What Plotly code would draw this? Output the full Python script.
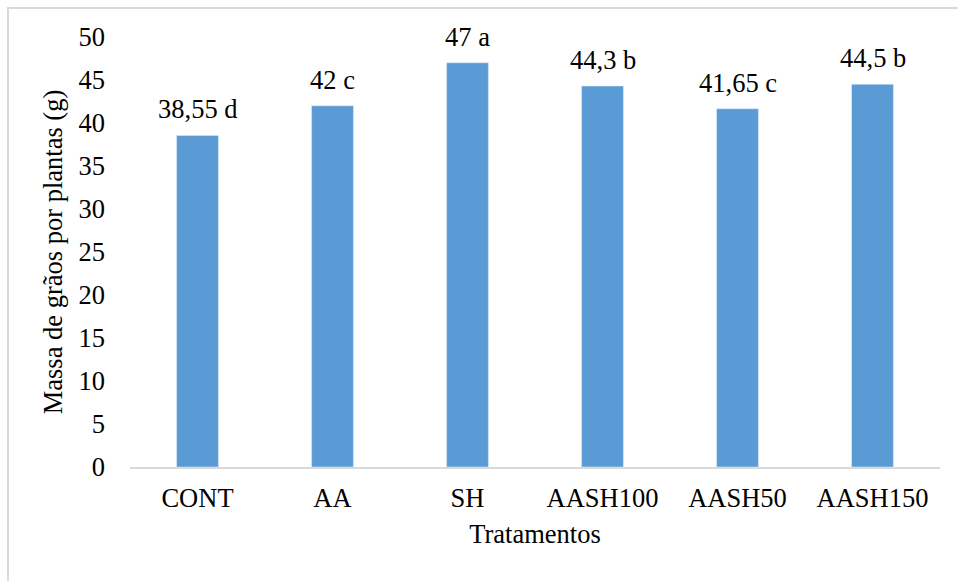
import plotly.graph_objects as go

categories = ["CONT", "AA", "SH", "AASH100", "AASH50", "AASH150"]
values = [38.55, 42, 47, 44.3, 41.65, 44.5]
letters = ["d", "c", "a", "b", "c", "b"]
labels = [f"{str(v).replace('.', ',')} {l}" for v, l in zip(values, letters)]
y_ticks = list(range(0, 51, 5))

W, H = 958, 581
L, R, T, B = 130, 18, 37, 114
pw, ph = W - L - R, H - T - B

font = dict(family="Liberation Serif", size=26.5, color="#000000")

fig = go.Figure()
fig.add_trace(go.Bar(x=categories, y=values, marker_color="#5B9BD5", width=0.31))

for c, v, t in zip(categories, values, labels):
    fig.add_annotation(x=c, y=v, text=t, showarrow=False, yanchor="bottom",
                       yshift=9, font=font)

def px_x(p):
    return (p - L) / pw

def px_y(p):
    return (H - B - p) / ph

fig.add_shape(type="rect", xref="paper", yref="paper",
              x0=px_x(8), x1=px_x(965), y0=px_y(590), y1=px_y(8),
              line=dict(color="#d9d9d9", width=2), fillcolor="rgba(0,0,0,0)", layer="below")

fig.update_layout(
    width=W, height=H,
    margin=dict(l=L, r=R, t=T, b=B, pad=0),
    paper_bgcolor="white", plot_bgcolor="white",
    font=font, showlegend=False,
    bargap=0.69,
)
fig.update_xaxes(showline=True, linecolor="#d9d9d9", linewidth=2, ticks="",
                 tickfont=font,
                 title=dict(text="Tratamentos", font=font, standoff=13),
                 ticklabelstandoff=6)
fig.update_yaxes(range=[0, 50], tickvals=y_ticks, showgrid=False, zeroline=False,
                 showline=False, ticks="", ticklabelstandoff=24, tickfont=font,
                 title=dict(text="Massa de grãos por plantas (g)", font=font, standoff=8))

fig.write_html("out.html")
